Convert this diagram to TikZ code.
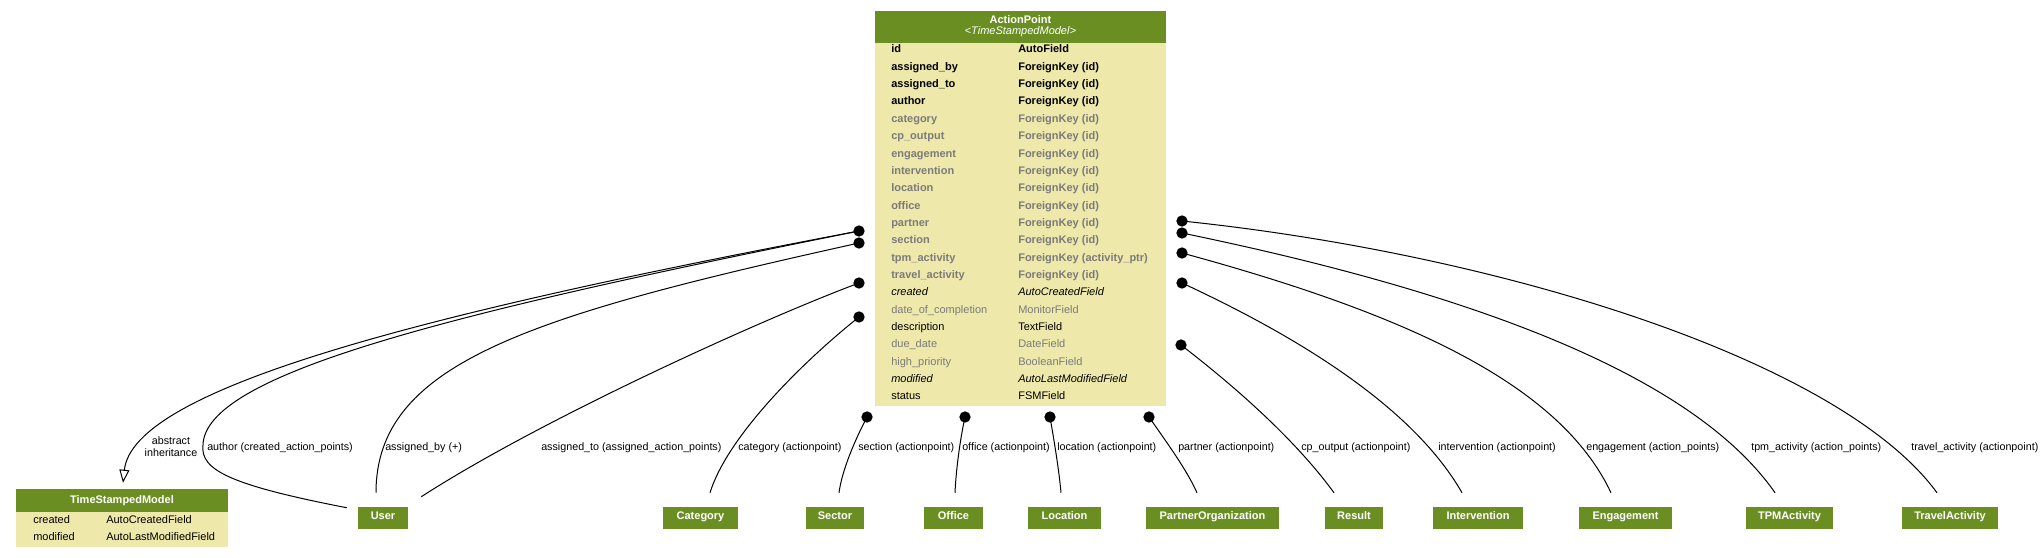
\documentclass[tikz,border=0pt]{standalone}
\usepackage{fontspec}
\setmainfont{Liberation Sans}
\usetikzlibrary{arrows.meta, calc}
\definecolor{hdgreen}{HTML}{6B8E23}
\definecolor{bodykhaki}{HTML}{EEE8AA}
\definecolor{fieldgray}{HTML}{7B7B7B}

\tikzset{
    header/.style = {fill = hdgreen, inner sep = 0pt},
    tablebody/.style = {fill = bodykhaki, inner sep = 0pt},
    txt/.style = {inner sep = 0pt, text height = 5.9pt, text depth = 0pt},
    fld/.style = {txt, anchor = west},
    hdtext/.style = {txt, text = white},
    model/.style = {fill = hdgreen, text = white, font = \bfseries, inner sep = 0pt,
                    minimum height = 16.5pt, text height = 5.9pt, text depth = 3pt},
    knob/.style = {circle, fill = black, inner sep = 0pt, minimum size = 8.5pt},
    rel/.style = {line width = 0.75pt},
    lbl/.style = {txt, anchor = west, font = \fontsize{8.05}{9}\selectfont}
}

\begin{document}
\fontsize{8.25}{10}\selectfont
\begin{tikzpicture}[x = 0.75pt, y = -0.75pt]
    \useasboundingbox (0,0) rectangle (2042,557);
    \fill[white] (0,0) rectangle (2042,557);

    % ActionPoint table
    \node[header, minimum width = 218.25pt, minimum height = 24pt] (aphead) at (1020.5,27) {};
    \node[tablebody, minimum width = 218.25pt, minimum height = 272.25pt] (ap) at (1020.5,224.5) {};
    \node[hdtext, font = \bfseries] (aptitle) at (1020.5,20) {ActionPoint};
    \node[hdtext] (apstereo) at (1020.5,31) {\textless\textit{TimeStampedModel}\textgreater};
    \foreach \ff/\fc/\fname/\ftype [count = \i from 0] in {
        \bfseries/black/id/AutoField,
        \bfseries/black/assigned\_by/ForeignKey (id),
        \bfseries/black/assigned\_to/ForeignKey (id),
        \bfseries/black/author/ForeignKey (id),
        \bfseries/fieldgray/category/ForeignKey (id),
        \bfseries/fieldgray/cp\_output/ForeignKey (id),
        \bfseries/fieldgray/engagement/ForeignKey (id),
        \bfseries/fieldgray/intervention/ForeignKey (id),
        \bfseries/fieldgray/location/ForeignKey (id),
        \bfseries/fieldgray/office/ForeignKey (id),
        \bfseries/fieldgray/partner/ForeignKey (id),
        \bfseries/fieldgray/section/ForeignKey (id),
        \bfseries/fieldgray/tpm\_activity/ForeignKey (activity\_ptr),
        \bfseries/fieldgray/travel\_activity/ForeignKey (id),
        \itshape/black/created/AutoCreatedField,
        \normalfont/fieldgray/date\_of\_completion/MonitorField,
        \normalfont/black/description/TextField,
        \normalfont/fieldgray/due\_date/DateField,
        \normalfont/fieldgray/high\_priority/BooleanField,
        \itshape/black/modified/AutoLastModifiedField,
        \normalfont/black/status/FSMField}
    {
        \node[fld, font = \ff, text = \fc] (fn\i) at (891,{49+17.35*\i}) {\fname};
        \node[fld, font = \ff, text = \fc] (ft\i) at (1018,{49+17.35*\i}) {\ftype};
    }

    % TimeStampedModel table
    \node[header, text = white, font = \bfseries, minimum width = 159pt, minimum height = 17.25pt,
          text height = 5.9pt, text depth = 1.5pt] (tsm) at (122,500.5) {TimeStampedModel};
    \node[tablebody, minimum width = 159pt, minimum height = 26.25pt] (tsmbody) at (122,529.5) {};
    \node[fld] (tsmcreated) at (33,519.5) {created};
    \node[fld] (tsmcreatedtype) at (106,519.5) {AutoCreatedField};
    \node[fld] (tsmmodified) at (33,536.5) {modified};
    \node[fld] (tsmmodifiedtype) at (106,536.5) {AutoLastModifiedField};

    % related models
    \node[model, minimum width = 37.5pt] (user) at (383,518) {User};
    \node[model, minimum width = 56.25pt] (category) at (700.5,518) {Category};
    \node[model, minimum width = 43.5pt] (sector) at (835,518) {Sector};
    \node[model, minimum width = 44.25pt] (office) at (953.5,518) {Office};
    \node[model, minimum width = 54.75pt] (location) at (1064.5,518) {Location};
    \node[model, minimum width = 99.75pt] (partnerorg) at (1212.5,518) {PartnerOrganization};
    \node[model, minimum width = 43.5pt] (result) at (1354,518) {Result};
    \node[model, minimum width = 67.5pt] (intervention) at (1478,518) {Intervention};
    \node[model, minimum width = 69.75pt] (engagement) at (1625.5,518) {Engagement};
    \node[model, minimum width = 65.25pt] (tpmactivity) at (1789.5,518) {TPMActivity};
    \node[model, minimum width = 72pt] (travelactivity) at (1950,518) {TravelActivity};

    % relation ends
    \node[knob] (kAuthor) at (859,231) {};
    \node[knob] (kAssignedBy) at (859,243) {};
    \node[knob] (kAssignedTo) at (859,283) {};
    \node[knob] (kCategory) at (859,317) {};
    \node[knob] (kSection) at (867,417) {};
    \node[knob] (kOffice) at (965,417) {};
    \node[knob] (kLocation) at (1050,417) {};
    \node[knob] (kPartner) at (1149,417) {};
    \node[knob] (kTravel) at (1182,221) {};
    \node[knob] (kTpm) at (1182,233) {};
    \node[knob] (kEngagement) at (1182,253) {};
    \node[knob] (kIntervention) at (1182,283) {};
    \node[knob] (kCpOutput) at (1181,345) {};

    % relations
    \draw[rel, -{Triangle[open, length = 9.75pt, width = 7.5pt]}] (kAuthor.center)
        .. controls (409,316) and (133,390) .. ($(tsm.north)+(1,-6)$);
    \draw[rel] (kAuthor.center) .. controls (440,315) and (205,375) .. (203,445)
        .. controls (200,470) and (230,485) .. ($(user.north west)+(-11,1)$);
    \draw[rel] (kAssignedBy.center) .. controls (529,316) and (376,363) .. ($(user.north)+(-7,-14)$);
    \draw[rel] (kAssignedTo.center) .. controls (760,320) and (540,420) .. ($(user.north east)+(13,-10)$);
    \draw[rel] (kCategory.center) .. controls (805,360) and (728,435) .. ($(category.north)+(9.5,-14)$);
    \draw[rel] (kSection.center) .. controls (855,440) and (842,470) .. ($(sector.north)+(4,-14)$);
    \draw[rel] (kOffice.center) .. controls (960,440) and (956,470) .. ($(office.north)+(1.5,-14)$);
    \draw[rel] (kLocation.center) .. controls (1054,440) and (1059,470) .. ($(location.north)+(-3.5,-14)$);
    \draw[rel] (kPartner.center) .. controls (1165,440) and (1187,470) .. ($(partnerorg.north)+(-15.5,-14)$);
    \draw[rel] (kCpOutput.center) .. controls (1233,385) and (1294,438) .. ($(result.north)+(-20,-14)$);
    \draw[rel] (kIntervention.center) .. controls (1333,353) and (1422,423) .. ($(intervention.north)+(-16,-14)$);
    \draw[rel] (kEngagement.center) .. controls (1410,315) and (1560,385) .. ($(engagement.north)+(-14.5,-14)$);
    \draw[rel] (kTpm.center) .. controls (1483,295) and (1695,378) .. ($(tpmactivity.north)+(-14.5,-14)$);
    \draw[rel] (kTravel.center) .. controls (1500,254) and (1840,360) .. ($(travelactivity.north)+(-13,-14)$);

    % relation labels
    \node[align = center, inner sep = 0pt, font = \fontsize{8.05}{9}\selectfont] (lInherit) at (171,447) {abstract\\inheritance};
    \node[lbl] (lAuthor) at (207,447) {author (created\_action\_points)};
    \node[lbl] (lAssignedBy) at (385,447) {assigned\_by (+)};
    \node[lbl] (lAssignedTo) at (541,447) {assigned\_to (assigned\_action\_points)};
    \node[lbl] (lCategory) at (738,447) {category (actionpoint)};
    \node[lbl] (lSection) at (858,447) {section (actionpoint)};
    \node[lbl] (lOffice) at (962,447) {office (actionpoint)};
    \node[lbl] (lLocation) at (1057,447) {location (actionpoint)};
    \node[lbl] (lPartner) at (1178,447) {partner (actionpoint)};
    \node[lbl] (lCpOutput) at (1301,447) {cp\_output (actionpoint)};
    \node[lbl] (lIntervention) at (1438,447) {intervention (actionpoint)};
    \node[lbl] (lEngagement) at (1586,447) {engagement (action\_points)};
    \node[lbl] (lTpm) at (1751,447) {tpm\_activity (action\_points)};
    \node[lbl] (lTravel) at (1911,447) {travel\_activity (actionpoint)};
\end{tikzpicture}
\end{document}
